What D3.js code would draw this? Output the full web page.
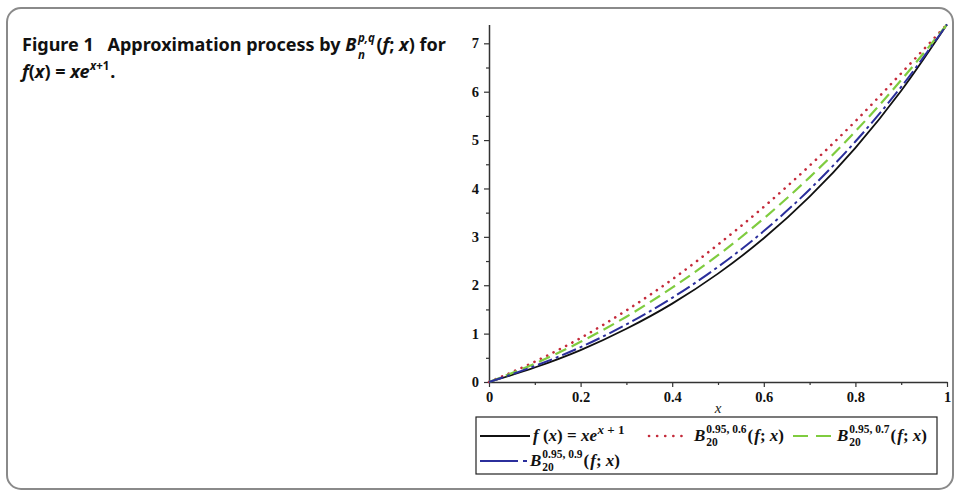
<!DOCTYPE html>
<html>
<head>
<meta charset="utf-8">
<script src="https://cdn.jsdelivr.net/npm/d3@7"></script>
<style>
  html, body { margin: 0; padding: 0; background: #fff; }
  svg { display: block; }
  text { white-space: pre; }
</style>
</head>
<body>
<svg id="chart" width="955" height="493"></svg>
<script>
// ---- data ----
const xs = [0, 0.1, 0.2, 0.3, 0.4, 0.5, 0.6, 0.7, 0.8, 0.9, 1.0];
const fValues   = [0, 0.30, 0.66, 1.10, 1.62, 2.24, 2.97, 3.83, 4.84, 6.02, 7.39];
const b06Values = [0, 0.42, 0.91, 1.48, 2.12, 2.84, 3.62, 4.47, 5.39, 6.38, 7.39];
const b07Values = [0, 0.38, 0.83, 1.35, 1.95, 2.62, 3.38, 4.23, 5.18, 6.24, 7.39];
const b09Values = [0, 0.33, 0.72, 1.19, 1.74, 2.38, 3.12, 3.98, 4.97, 6.10, 7.39];
const xTickValues = [0, 0.2, 0.4, 0.6, 0.8, 1];
const xTickLabels = ["0", "0.2", "0.4", "0.6", "0.8", "1"];
const xMinorTicks = [0.1, 0.3, 0.5, 0.7, 0.9];
const yTickValues = [0, 1, 2, 3, 4, 5, 6, 7];
const yTickLabels = ["0", "1", "2", "3", "4", "5", "6", "7"];
const yMinorTicks = [0.5, 1.5, 2.5, 3.5, 4.5, 5.5, 6.5];
const yMax = 7.389;

const svg = d3.select("#chart");

// frame
svg.append("rect").attr("x", 7).attr("y", 8).attr("width", 946).attr("height", 481)
  .attr("rx", 14).attr("fill", "none").attr("stroke", "#8a8a8a").attr("stroke-width", 2);

// title
const titleFont = "'Noto Sans', 'Open Sans', sans-serif";
const TS = 18, TSS = 11.5;
function tText(xx, yy, txt, opts = {}) {
  const t = svg.append("text").attr("x", xx).attr("y", yy)
    .attr("font-family", titleFont).attr("font-weight", "bold")
    .attr("font-size", opts.size || TS).attr("fill", "#111");
  if (opts.italic) t.attr("font-style", "italic");
  t.text(txt);
  return t;
}
function w(t) { return t.node().getComputedTextLength(); }
let cx = 22;
let t = tText(cx, 51, "Figure 1\u2002 Approximation process by "); cx += w(t);
t = tText(cx, 51, "B", { italic: true }); cx += w(t) + 1.5;
const tsup = tText(cx, 42, "p,q", { italic: true, size: TSS });
const tsub = tText(cx, 58.5, "n", { italic: true, size: TSS });
cx += Math.max(w(tsup), w(tsub)) + 1.5;
t = tText(cx, 51, "("); cx += w(t);
t = tText(cx, 51, "f", { italic: true }); cx += w(t);
t = tText(cx, 51, "; "); cx += w(t);
t = tText(cx, 51, "x", { italic: true }); cx += w(t);
t = tText(cx, 51, ") for");

cx = 22;
t = tText(cx, 78, "f", { italic: true }); cx += w(t);
t = tText(cx, 78, "("); cx += w(t);
t = tText(cx, 78, "x", { italic: true }); cx += w(t);
t = tText(cx, 78, ") = "); cx += w(t);
t = tText(cx, 78, "xe", { italic: true }); cx += w(t) + 0.5;
t = tText(cx, 70, "x", { italic: true, size: TSS }); cx += w(t);
t = tText(cx, 70, "+1", { size: TSS }); cx += w(t) + 1;
t = tText(cx, 78, ".");

// scales
const x = d3.scaleLinear().domain([0, 1]).range([489, 947]);
const y = d3.scaleLinear().domain([0, yMax]).range([382, 24.5]);

const serif = "'Liberation Serif', 'Times New Roman', serif";

// axes
svg.append("g").attr("transform", `translate(0,${y(0)})`)
  .call(d3.axisBottom(x).tickValues(xTickValues).tickFormat((d, i) => xTickLabels[i]).tickSize(5).tickSizeOuter(0).tickPadding(5));
svg.append("g").attr("transform", `translate(0,${y(0)})`)
  .call(d3.axisBottom(x).tickValues(xMinorTicks).tickFormat("").tickSize(3).tickSizeOuter(0))
  .select(".domain").remove();
svg.append("g").attr("transform", `translate(${x(0)},0)`)
  .call(d3.axisLeft(y).tickValues(yTickValues).tickFormat((d, i) => yTickLabels[i]).tickSize(5).tickSizeOuter(0).tickPadding(5));
svg.append("g").attr("transform", `translate(${x(0)},0)`)
  .call(d3.axisLeft(y).tickValues(yMinorTicks).tickFormat("").tickSize(3).tickSizeOuter(0))
  .select(".domain").remove();

svg.selectAll(".tick line").attr("stroke", "#333").attr("stroke-width", 1.2);
svg.selectAll(".domain").attr("stroke", "#333").attr("stroke-width", 1.5);
svg.selectAll(".tick text").attr("font-family", serif).attr("font-weight", "bold")
  .attr("font-size", 14.5).attr("fill", "#111");

// axis title
svg.append("text").attr("x", x(0.5)).attr("y", 413).attr("text-anchor", "middle")
  .attr("font-family", serif).attr("font-style", "italic").attr("font-size", 15).attr("fill", "#222").text("x");

// series
const series = [
  { name: "f", values: fValues, color: "#111111", dash: null, width: 1.8, cap: "butt" },
  { name: "b06", values: b06Values, color: "#c42a3a", dash: "0.1,7", width: 2.6, cap: "round" },
  { name: "b07", values: b07Values, color: "#7fcc3f", dash: "12,6", width: 2.2, cap: "butt" },
  { name: "b09", values: b09Values, color: "#2b2f9c", dash: "15,4,3,4", width: 2.0, cap: "butt" }
];
const line = d3.line().x((d, i) => x(xs[i])).y(d => y(d)).curve(d3.curveMonotoneX);
svg.append("g").selectAll("path").data(series).join("path")
  .attr("d", d => line(d.values))
  .attr("fill", "none")
  .attr("stroke", d => d.color)
  .attr("stroke-width", d => d.width)
  .attr("stroke-dasharray", d => d.dash)
  .attr("stroke-linecap", d => d.cap);

// legend
const lg = svg.append("g");
lg.append("rect").attr("x", 476).attr("y", 417).attr("width", 461).attr("height", 57)
  .attr("fill", "#fff").attr("stroke", "#222").attr("stroke-width", 1.2);

const LS = 17, LSS = 11.5;
function lText(xx, yy, txt, opts = {}) {
  const t = lg.append("text").attr("x", xx).attr("y", yy)
    .attr("font-family", serif).attr("font-weight", "bold")
    .attr("font-size", opts.size || LS).attr("fill", "#111");
  if (opts.italic) t.attr("font-style", "italic");
  t.text(txt);
  return t;
}
function legendLine(x0, x1, yy, s, dash) {
  lg.append("line").attr("x1", x0).attr("x2", x1).attr("y1", yy).attr("y2", yy)
    .attr("stroke", s.color).attr("stroke-width", s.width)
    .attr("stroke-dasharray", dash || s.dash).attr("stroke-linecap", s.cap);
}
function bLabel(x0, yy, sup) {
  let cx = x0;
  let t = lText(cx, yy, "B", { italic: true }); cx += w(t) + 1;
  const a = lText(cx, yy - 8, sup, { size: LSS });
  const b = lText(cx, yy + 5, "20", { size: LSS });
  cx += Math.max(w(a), w(b)) + 1;
  t = lText(cx, yy, "("); cx += w(t) + 1;
  t = lText(cx, yy, "f", { italic: true }); cx += w(t);
  t = lText(cx, yy, "; "); cx += w(t);
  t = lText(cx, yy, "x", { italic: true }); cx += w(t);
  lText(cx, yy, ")");
}

const r1 = 436, r2 = 461;
legendLine(480, 530, r1, series[0]);
{
  let cx = 533;
  let t = lText(cx, r1 + 5, "f", { italic: true }); cx += w(t);
  t = lText(cx, r1 + 5, " ("); cx += w(t);
  t = lText(cx, r1 + 5, "x", { italic: true }); cx += w(t);
  t = lText(cx, r1 + 5, ") = "); cx += w(t);
  t = lText(cx, r1 + 5, "xe", { italic: true }); cx += w(t) + 0.5;
  t = lText(cx, r1 - 2, "x", { italic: true, size: 13 }); cx += w(t);
  lText(cx, r1 - 2, " + 1", { size: 13 });
}
legendLine(649, 688, r1, series[1], "0.1,8");
bLabel(694, r1 + 5, "0.95, 0.6");
legendLine(793, 833, r1, series[2], "15,8");
bLabel(837, r1 + 5, "0.95, 0.7");
legendLine(480, 527, r2, series[3], "38,5,4,20");
bLabel(530, r2 + 5, "0.95, 0.9");
</script>
</body>
</html>
